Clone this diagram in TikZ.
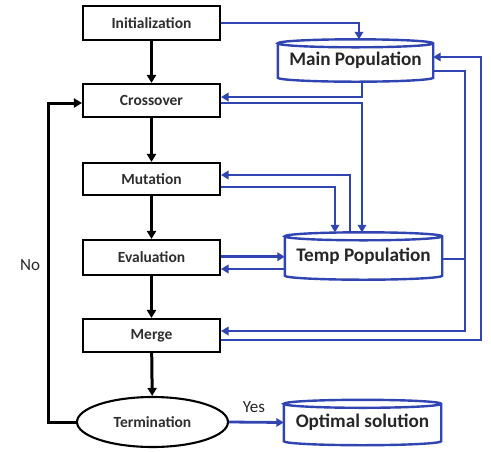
\documentclass[tikz,border=0pt]{standalone}
\usepackage{fontspec}
\setmainfont{Carlito}
\usetikzlibrary{arrows.meta,shapes.geometric,calc}
\definecolor{lnblue}{RGB}{48,68,178}
\tikzset{
  procbox/.style={draw=black,line width=2.1pt,minimum width=137pt,inner sep=0pt,font=\fontsize{15.5}{17}\selectfont\bfseries,text=black!82},
  cylnode/.style={inner sep=0pt,font=\fontsize{19.2}{22}\selectfont\bfseries,text=black!85},
  blk/.style={line width=3pt,draw=black,-{Triangle[length=8pt,width=9pt]}},
  blu/.style={line width=2.8pt,draw=lnblue,-{Triangle[length=7.5pt,width=8.5pt]}},
  bluplain/.style={line width=2.8pt,draw=lnblue},
  lbl/.style={font=\fontsize{17}{19}\selectfont,text=black!85},
}
\newcommand\drawcyl[1]{%
  \draw[lnblue,line width=2.4pt]
    let \p1=(#1.north west), \p2=(#1.south east), \n1={(\x2-\x1)/2} in
    ($(#1.north west)+(0,-4pt)$) -- ($(#1.south west)+(0,4pt)$)
    arc[start angle=180,end angle=360,x radius=\n1,y radius=4pt]
    -- ($(#1.north east)+(0,-4pt)$)
    arc[start angle=0,end angle=360,x radius=\n1,y radius=4pt];}
\begin{document}
\begin{tikzpicture}[x=1pt,y=1pt]
\useasboundingbox (0,0) rectangle (491,-451);
% process boxes
\node[procbox,minimum height=34pt] (init) at (151.5,-23) {Initialization};
\node[procbox,minimum height=33pt] (cross) at (151.5,-100.5) {Crossover};
\node[procbox,minimum height=32pt] (mut) at (151.5,-179) {Mutation};
\node[procbox,minimum height=35pt] (eval) at (151.5,-257.5) {Evaluation};
\node[procbox,minimum height=33pt] (merge) at (151.5,-335.5) {Merge};
\node[ellipse,draw=black,line width=2.1pt,minimum width=151pt,minimum height=50pt,inner sep=0pt,font=\fontsize{15.5}{17}\selectfont\bfseries,text=black!82] (term) at (152.5,-422) {Termination};
% cylinders
\node[cylnode,minimum width=155pt,minimum height=42pt] (mp) at (355.5,-60.5) {Main Population};
\node[cylnode,minimum width=157pt,minimum height=47pt] (tp) at (363.5,-256) {Temp Population};
\node[cylnode,minimum width=157pt,minimum height=45pt] (opt) at (362.5,-422.5) {Optimal solution};
\drawcyl{mp}\drawcyl{tp}\drawcyl{opt}
% black flow
\draw[blk] (init) -- (cross);
\draw[blk] (cross) -- (mut);
\draw[blk] (mut) -- (eval);
\draw[blk] (eval) -- (merge);
\draw[blk] (merge) -- (term);
\draw[blk] (term.west) -| (48,-103) -- ([yshift=-2.5]cross.west);
\node[lbl] (no) at (30,-265) {No};
% blue flow
\draw[blu] (init.east) -| (359,0 |- mp.north);
\draw[blu] (362,0 |- mp.south) |- ([yshift=3.5]cross.east);
\draw[blu] ([yshift=-2.5]cross.east) -| (362,0 |- tp.north);
\draw[blu] (350,0 |- tp.north) |- ([yshift=4]mut.east);
\draw[blu] ([yshift=-8]mut.east) -| (335,0 |- tp.north);
\draw[blu] ([yshift=0.8]eval.east) -- ([yshift=0.8]eval.east -| tp.west);
\draw[blu] ([yshift=-11.5]eval.east -| tp.west) -- ([yshift=-11.5]eval.east);
\draw[bluplain] (tp.east |- 0,-259) -- (465,-259);
\draw[blu] (mp.east |- 0,-71) -| (465,-331) -- (merge.east |- 0,-331);
\draw[blu] (merge.east |- 0,-340) -| (481,-57) -- (mp.east |- 0,-57);
\draw[blu] (term.east) -- (opt.west);
\node[lbl] (yes) at (254,-407) {Yes};
\end{tikzpicture}
\end{document}
